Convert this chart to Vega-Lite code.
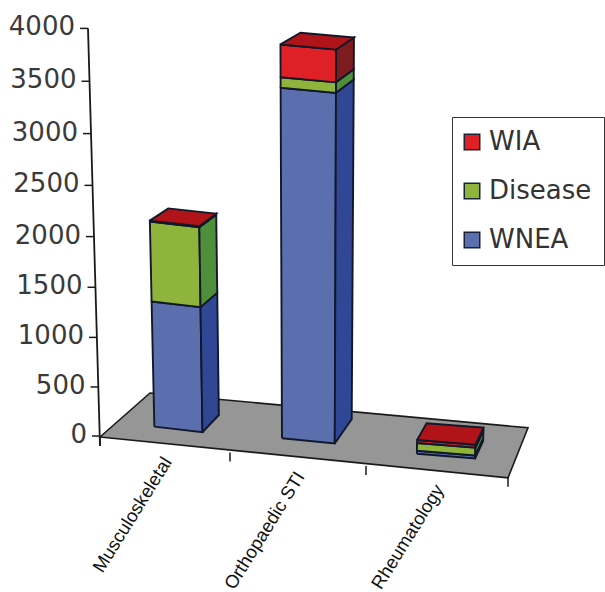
{
  "$schema": "https://vega.github.io/schema/vega-lite/v6.json",
  "width": 605,
  "height": 592,
  "padding": 0,
  "autosize": "none",
  "background": "white",
  "config": {"view": {"stroke": null}},
  "datasets": {
    "bars": [
      {"category": "Musculoskeletal", "series": "WNEA", "value": 1265},
      {"category": "Musculoskeletal", "series": "Disease", "value": 790},
      {"category": "Musculoskeletal", "series": "WIA", "value": 10},
      {"category": "Orthopaedic STI", "series": "WNEA", "value": 3460},
      {"category": "Orthopaedic STI", "series": "Disease", "value": 100},
      {"category": "Orthopaedic STI", "series": "WIA", "value": 310},
      {"category": "Rheumatology", "series": "WNEA", "value": 30},
      {"category": "Rheumatology", "series": "Disease", "value": 80},
      {"category": "Rheumatology", "series": "WIA", "value": 30}
    ],
    "ticks": [
      {"tick": 0}, {"tick": 500}, {"tick": 1000}, {"tick": 1500}, {"tick": 2000},
      {"tick": 2500}, {"tick": 3000}, {"tick": 3500}, {"tick": 4000}
    ],
    "floorCorners": [{"corner": 0}, {"corner": 1}, {"corner": 2}, {"corner": 3}, {"corner": 4}],
    "boundaries": [{"boundary": 0}, {"boundary": 1}, {"boundary": 2}, {"boundary": 3}],
    "categories": [
      {"category": "Musculoskeletal", "slot": 0.5},
      {"category": "Orthopaedic STI", "slot": 1.5},
      {"category": "Rheumatology", "slot": 2.5}
    ]
  },
  "encoding": {
    "x": {"field": "px", "type": "quantitative", "axis": null,
          "scale": {"domain": [0, 605], "range": [0, 605], "nice": false, "zero": false}},
    "y": {"field": "py", "type": "quantitative", "axis": null,
          "scale": {"domain": [592, 0], "range": [592, 0], "nice": false, "zero": false}}
  },
  "layer": [
    {
      "description": "Floor of the 3D plot, a bilinear patch across the three category slots",
      "data": {"name": "floorCorners"},
      "transform": [
        {"calculate": "[0,3,3,0,0][datum.corner]", "as": "U"},
        {"calculate": "[0,0,1,1,0][datum.corner]", "as": "D"},
        {"calculate": "100+127*datum.U+3*datum.U*datum.U+(50-10*datum.U)*datum.D", "as": "px"},
        {"calculate": "437+16.3*datum.U-0.9*datum.U*datum.U-(44+2*datum.U)*datum.D", "as": "py"}
      ],
      "mark": {"type": "line", "fill": "#969696", "stroke": "#1a1a1a", "strokeWidth": 1.6, "strokeJoin": "miter"},
      "encoding": {"order": {"field": "corner", "type": "ordinal"}}
    },
    {
      "description": "Short ticks under the floor's front edge",
      "data": {"name": "boundaries"},
      "transform": [
        {"calculate": "100+127*datum.boundary+3*datum.boundary*datum.boundary", "as": "px"},
        {"calculate": "437+16.3*datum.boundary-0.9*datum.boundary*datum.boundary", "as": "py"},
        {"calculate": "datum.py+9", "as": "pyEnd"}
      ],
      "mark": {"type": "rule", "stroke": "#1a1a1a", "strokeWidth": 1.5},
      "encoding": {"y2": {"field": "pyEnd"}}
    },
    {
      "description": "Value axis line, leaning with the perspective",
      "data": {"values": [{"from": 0, "to": 4000}]},
      "transform": [
        {"calculate": "100-datum.to*0.003", "as": "px"},
        {"calculate": "436-0.0975*datum.to-0.0000011*datum.to*datum.to", "as": "py"},
        {"calculate": "100", "as": "pxEnd"},
        {"calculate": "446", "as": "pyEnd"}
      ],
      "mark": {"type": "rule", "stroke": "#1a1a1a", "strokeWidth": 1.8},
      "encoding": {"x2": {"field": "pxEnd"}, "y2": {"field": "pyEnd"}}
    },
    {
      "description": "Value axis ticks",
      "data": {"name": "ticks"},
      "transform": [
        {"calculate": "100-datum.tick*0.003", "as": "px"},
        {"calculate": "436-0.0975*datum.tick-0.0000011*datum.tick*datum.tick", "as": "py"},
        {"calculate": "datum.px-8", "as": "pxEnd"}
      ],
      "mark": {"type": "rule", "stroke": "#1a1a1a", "strokeWidth": 1.5},
      "encoding": {"x2": {"field": "pxEnd"}}
    },
    {
      "description": "Value axis labels",
      "data": {"name": "ticks"},
      "transform": [
        {"calculate": "100-datum.tick*0.003-13", "as": "px"},
        {"calculate": "436-0.0975*datum.tick-0.0000011*datum.tick*datum.tick-1", "as": "py"}
      ],
      "mark": {"type": "text", "align": "right", "baseline": "middle", "font": "DejaVu Sans", "fontSize": 26, "fill": "#3a3a3a"},
      "encoding": {"text": {"field": "tick", "type": "quantitative"}}
    },
    {
      "description": "Category labels below the floor",
      "data": {"name": "categories"},
      "transform": [
        {"calculate": "100+127*datum.slot+3*datum.slot*datum.slot+3", "as": "px"},
        {"calculate": "437+16.3*datum.slot-0.9*datum.slot*datum.slot+14", "as": "py"}
      ],
      "mark": {"type": "text", "align": "right", "baseline": "middle", "angle": 302, "font": "Liberation Sans", "fontSize": 18.5, "fill": "#111111"},
      "encoding": {"text": {"field": "category", "type": "nominal"}}
    },
    {
      "description": "Bar faces: the stacked values are projected into front, side and top polygons",
      "data": {"name": "bars"},
      "transform": [
        {"calculate": "indexof(['WNEA','Disease','WIA'], datum.series)", "as": "rank"},
        {"stack": "value", "groupby": ["category"], "sort": [{"field": "rank", "order": "ascending"}], "as": ["v0", "v1"]},
        {"calculate": "indexof(['Musculoskeletal','Orthopaedic STI','Rheumatology'], datum.category)", "as": "slotIndex"},
        {"calculate": "[0.3,1.28,2.3][datum.slotIndex]", "as": "ul"},
        {"calculate": "[0.68,1.68,2.72][datum.slotIndex]", "as": "ur"},
        {"calculate": "[0.34,0.39,0.33][datum.slotIndex]", "as": "d0"},
        {"calculate": "[0.72,0.9,0.68][datum.slotIndex]", "as": "d1"},
        {"calculate": "['front','side','top']", "as": "face"},
        {"flatten": ["face"]},
        {"filter": "datum.face !== 'top' || datum.series === 'WIA'"},
        {"calculate": "[0,1,2,3,4]", "as": "corner"},
        {"flatten": ["corner"]},
        {"calculate": "datum.face==='side' ? datum.ur : [datum.ul,datum.ur,datum.ur,datum.ul,datum.ul][datum.corner]", "as": "U"},
        {"calculate": "datum.face==='front' ? datum.d0 : datum.face==='side' ? [datum.d0,datum.d1,datum.d1,datum.d0,datum.d0][datum.corner] : [datum.d0,datum.d0,datum.d1,datum.d1,datum.d0][datum.corner]", "as": "D"},
        {"calculate": "datum.face==='top' ? datum.v1 : [datum.v0,datum.v0,datum.v1,datum.v1,datum.v0][datum.corner]", "as": "H"},
        {"calculate": "100+127*datum.U+3*datum.U*datum.U+(50-10*datum.U)*datum.D", "as": "baseX"},
        {"calculate": "datum.baseX-datum.H*(310-datum.baseX)*0.000014", "as": "px"},
        {"calculate": "437+16.3*datum.U-0.9*datum.U*datum.U-(44+2*datum.U)*datum.D-(0.0975*datum.H+0.0000011*datum.H*datum.H)*(1-0.06*(datum.D-datum.d0))", "as": "py"},
        {"calculate": "datum.face==='front' ? datum.series : datum.series+' '+datum.face", "as": "shade"},
        {"calculate": "datum.category+' '+datum.series+' '+datum.face", "as": "polygon"}
      ],
      "mark": {"type": "line", "stroke": "#10182a", "strokeWidth": 1.9, "strokeJoin": "miter"},
      "encoding": {
        "order": {"field": "corner", "type": "ordinal"},
        "detail": {"field": "polygon", "type": "nominal"},
        "fill": {
          "field": "shade",
          "type": "nominal",
          "scale": {
            "domain": ["WIA", "Disease", "WNEA", "WIA side", "Disease side", "WNEA side", "WIA top"],
            "range": ["#df2027", "#8fb43c", "#5b6fae", "#7d1c1f", "#4f8f3c", "#2f4795", "#b01419"]
          },
          "legend": {
            "values": ["WIA", "Disease", "WNEA"],
            "orient": "none",
            "legendX": 452,
            "legendY": 117,
            "title": null,
            "padding": 12,
            "strokeColor": "#333333",
            "fillColor": "white",
            "symbolType": "square",
            "symbolSize": 240,
            "symbolOffset": -5,
            "symbolStrokeColor": "#1a2238",
            "symbolStrokeWidth": 1.5,
            "labelFont": "DejaVu Sans",
            "labelFontSize": 26,
            "labelColor": "#333333",
            "labelOffset": 4,
            "labelLimit": 200,
            "rowPadding": 23
          }
        }
      }
    }
  ]
}
